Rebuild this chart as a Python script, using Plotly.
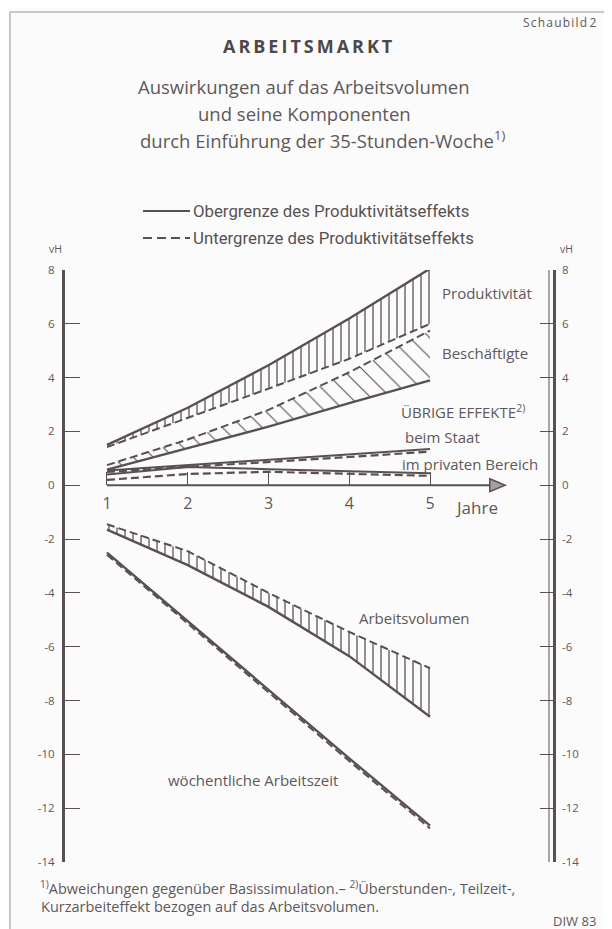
import plotly.graph_objects as go

# ---------------- data ----------------
years = [1, 2, 3, 4, 5]
prod_upper = [1.5, 2.88, 4.46, 6.2, 8.05]        # Produktivität, solid (Obergrenze)
prod_lower = [1.42, 2.5, 3.59, 4.7, 6.0]         # Produktivität, dashed (Untergrenze)
besch_lower = [0.75, 1.7, 2.8, 4.2, 5.75]        # Beschäftigte, dashed (Untergrenze)
besch_upper = [0.58, 1.38, 2.18, 3.05, 3.9]      # Beschäftigte, solid (Obergrenze)
staat_upper = [0.55, 0.75, 0.95, 1.15, 1.35]
staat_lower = [0.5, 0.68, 0.87, 1.05, 1.25]
privat_upper = [0.4, 0.68, 0.6, 0.52, 0.45]
privat_lower = [0.2, 0.42, 0.5, 0.42, 0.35]
volumen_lower = [-1.45, -2.45, -4.0, -5.45, -6.8]   # dashed
volumen_upper = [-1.65, -2.97, -4.52, -6.35, -8.6]  # solid
zeit_upper = [-2.5, -5.05, -7.6, -10.15, -12.65]
zeit_lower = [-2.58, -5.13, -7.7, -10.25, -12.75]
ytick_vals = [8, 6, 4, 2, 0, -2, -4, -6, -8, -10, -12, -14]
ytick_text = ["8", "6", "4", "2", "0", "-2", "-4", "-6", "-8", "-10", "-12", "-14"]
xtick_vals = [1, 2, 3, 4, 5]

INK = "#5a5051"
TXT = "#5f5859"
FONT = "Open Sans"
DASH = "8px,4px"

fig = go.Figure()

def line(y, dash=None, width=2.4, fill=None, pattern=None):
    fig.add_trace(go.Scatter(
        x=years, y=y, mode="lines",
        line=dict(color=INK, width=width, dash=dash),
        fill=fill, fillpattern=pattern,
        fillcolor="rgba(0,0,0,0)" if fill else None,
        showlegend=False, hoverinfo="skip"))

vpat = dict(shape="|", size=8, solidity=0.16, fgcolor=INK,
            bgcolor="rgba(0,0,0,0)", fillmode="replace")
dpat = dict(shape="\\", size=14, solidity=0.08, fgcolor=INK,
            bgcolor="rgba(0,0,0,0)", fillmode="replace")

# Produktivität band
line(prod_lower, dash=DASH, width=2)
line(prod_upper, fill="tonexty", pattern=vpat)
# Beschäftigte band
line(besch_upper)
line(besch_lower, dash=DASH, width=2, fill="tonexty", pattern=dpat)
# Übrige Effekte
line(staat_upper, width=2)
line(staat_lower, dash=DASH, width=2.2)
line(privat_upper, width=2)
line(privat_lower, dash=DASH, width=2.2)
# Arbeitsvolumen band
line(volumen_upper)
line(volumen_lower, dash=DASH, width=2, fill="tonexty", pattern=vpat)
# wöchentliche Arbeitszeit
line(zeit_upper, width=2.4)
line(zeit_lower, dash=DASH, width=2)

# dummy trace so the right y axis is drawn
fig.add_trace(go.Scatter(x=[None], y=[None], yaxis="y2", showlegend=False))

# page offset of the plot div (body margin) is 8 px
OFF = 8
W, H = 612 - OFF, 929 - OFF
PL, PR, PT, PB = 65, 553, 270, 862          # plot area in page pixels
L, R, T, B = PL - OFF, W - (PR - OFF), PT - OFF, H - (PB - OFF)
PW, PH = PR - PL, PB - PT

def PX(x):
    return (x - PL) / PW

def PY(y):
    return (PB - y) / PH

ann = []
def text(s, x, y, size=13, anchor="left", color=TXT, family=FONT):
    ann.append(dict(text=s, x=PX(x), y=PY(y), xref="paper", yref="paper",
                    xanchor=anchor, yanchor="middle", showarrow=False,
                    font=dict(size=size, color=color, family=family)))

text("S c h a u b i l d  2".replace(" ", "\u200a"), 598, 22, size=12, anchor="right")
text("<b>A\u2009R\u2009B\u2009E\u2009I\u2009T\u2009S\u2009M\u2009A\u2009R\u2009K\u2009T</b>", 308, 46, size=18, anchor="center", color="#4f4748")
text("Auswirkungen auf das Arbeitsvolumen", 304, 87, size=18.5, anchor="center")
text("und seine Komponenten", 304, 113, size=18.5, anchor="center")
text("durch Einführung der 35-Stunden-Woche<sup>1)</sup>", 322, 139, size=18.5, anchor="center")
text("Obergrenze des Produktivitätseffekts", 191, 211, size=16.8, family="Roboto", color=INK)
text("Untergrenze des Produktivitätseffekts", 191, 238, size=16.8, family="Roboto", color=INK)
text("vH", 55, 249, size=10.5, anchor="center")
text("vH", 566, 249, size=10.5, anchor="center")
text("Produktivität", 440, 293, size=15)
text("Beschäftigte", 440, 353, size=15)
text("ÜBRIGE EFFEKTE<sup>2)</sup>", 399, 411, size=15)
text("beim Staat", 403, 437, size=15)
text("im privaten Bereich", 400, 464, size=15)
text("Jahre", 453, 507, size=17)
text("Arbeitsvolumen", 357, 618, size=15)
text("wöchentliche Arbeitszeit", 166, 780, size=15)
text("<sup>1)</sup>Abweichungen gegenüber Basissimulation.– <sup>2)</sup>Überstunden-, Teilzeit-,", 38, 887, size=14.5)
text("Kurzarbeiteffekt bezogen auf das Arbeitsvolumen.", 39, 906, size=14.5)
text("DIW 83", 598, 921, size=13, anchor="right")

shapes = [
    # outer frame
    dict(type="rect", xref="paper", yref="paper", x0=PX(10), x1=PX(606),
         y0=PY(945), y1=PY(12), line=dict(color="#9a9494", width=1)),
    # legend samples
    dict(type="line", xref="paper", yref="paper", x0=PX(143), x1=PX(190),
         y0=PY(211), y1=PY(211), line=dict(color=INK, width=2)),
    dict(type="line", xref="paper", yref="paper", x0=PX(143), x1=PX(190),
         y0=PY(238), y1=PY(238), line=dict(color=INK, width=2, dash="9px,5px")),
    # time axis with arrow
    dict(type="line", xref="x", yref="y", x0=1, x1=5.8, y0=0, y1=0,
         line=dict(color=INK, width=2)),
    dict(type="path", xref="x", yref="y",
         path="M 5.74 0.24 L 5.93 0 L 5.74 -0.24 Z",
         fillcolor="#a79f9f", line=dict(color=INK, width=1.5)),
    # second thin line of the right axis
    dict(type="line", xref="paper", yref="paper", x0=PX(549), x1=PX(549),
         y0=0, y1=1, line=dict(color=INK, width=1)),
]

fig.update_layout(
    width=W, height=H,
    margin=dict(l=L, r=R, t=T, b=B),
    paper_bgcolor="#fbfbfb", plot_bgcolor="rgba(0,0,0,0)",
    showlegend=False,
    annotations=ann, shapes=shapes,
    font=dict(family=FONT, color=TXT),
    xaxis=dict(range=[0.48, 6.523], anchor="free", position=14 / 22,
               showgrid=False, zeroline=False, showline=False,
               tickmode="array", tickvals=xtick_vals,
               ticks="inside", ticklen=13, tickwidth=1.2, tickcolor=INK,
               ticklabelstandoff=7,
               tickfont=dict(size=16, color=TXT, family=FONT)),
    yaxis=dict(range=[-14, 8], showgrid=False, zeroline=False,
               showline=True, linewidth=3, linecolor=INK,
               tickmode="array", tickvals=ytick_vals, ticktext=ytick_text,
               ticks="inside", ticklen=15, tickwidth=1, tickcolor=INK,
               ticklabelstandoff=5,
               tickfont=dict(size=11.5, color=TXT, family=FONT)),
    yaxis2=dict(range=[-14, 8], overlaying="y", side="right",
                showgrid=False, zeroline=False,
                showline=True, linewidth=2.5, linecolor=INK,
                tickmode="array", tickvals=ytick_vals, ticktext=ytick_text,
                ticks="inside", ticklen=13, tickwidth=1, tickcolor=INK,
                ticklabelstandoff=4,
                tickfont=dict(size=11.5, color=TXT, family=FONT)),
)

fig.write_html("out.html")
